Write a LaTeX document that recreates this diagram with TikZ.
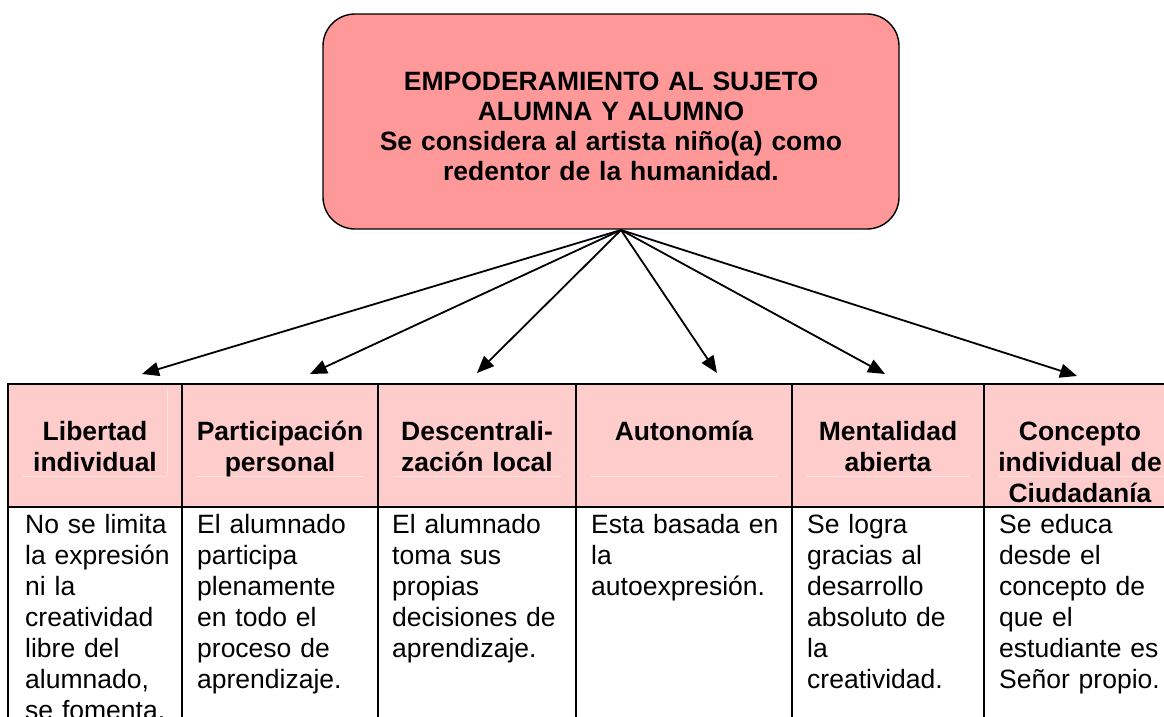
\documentclass[tikz,border=0pt]{standalone}
\usepackage{fontspec}
\setmainfont{Liberation Sans}
\usetikzlibrary{arrows.meta}
\definecolor{boxpink}{HTML}{FF9999}
\definecolor{hdrpink}{HTML}{FFCCCC}
\definecolor{faintpink}{HTML}{FFE4E4}
\tikzset{
  topbox/.style={draw=black, line width=1.4pt, fill=boxpink, rounded corners=32pt,
    minimum width=576pt, minimum height=215pt, inner sep=0pt},
  titletext/.style={font=\bfseries\fontsize{26.5}{30}\selectfont, align=center,
    text width=560pt, inner sep=0pt, anchor=base},
  hdtext/.style={font=\bfseries\fontsize{26.5}{31}\selectfont, align=center,
    inner sep=0pt, anchor=base, text width=190pt},
  bodytext/.style={font=\fontsize{26.5}{31}\selectfont, align=left,
    inner sep=0pt, anchor=base west, text width=200pt},
  gridline/.style={line width=1.5pt, draw=black},
  conn/.style={line width=1.8pt, -{Triangle[length=17pt,width=14pt]}},
  faint/.style={line width=0.8pt, draw=faintpink}
}
\begin{document}
\begin{tikzpicture}[x=1pt,y=-1pt]
\useasboundingbox (0,0) rectangle (1164,717);
\fill[white] (0,0) rectangle (1164,717);

% top box
\node[topbox] (top) at (611,121.5) {};
\node[titletext] (title) at (611,90) {EMPODERAMIENTO AL SUJETO\\ALUMNA Y ALUMNO\\Se considera al artista niño(a) como\\redentor de la humanidad.};

% table
\fill[hdrpink] (8,384) rectangle (1164,507);
\foreach \a/\b in {23/167,197/363,393/561,591/777,807/969,999/1164}{
  \draw[faint] (\a,476) -- (\b,476);
}
\draw[faint] (167,388) -- (167,476);
\draw[gridline] (1164,384) -- (8,384) -- (8,717);
\draw[gridline] (8,507) -- (1164,507);
\foreach \x in {182,378,576,792,984}{
  \draw[gridline] (\x,384) -- (\x,717);
}

% headers
\node[hdtext, text width=170pt] (h1) at (95,440) {Libertad\\individual};
\node[hdtext] (h2) at (280,440) {Participación\\personal};
\node[hdtext] (h3) at (477,440) {Descentrali-\\zación local};
\node[hdtext] (h4) at (684,440) {Autonomía};
\node[hdtext] (h5) at (888,440) {Mentalidad\\abierta};
\node[hdtext] (h6) at (1080,440) {Concepto\\individual de\\Ciudadanía};

% body
\node[bodytext] (b1) at (25,533) {No se limita\\la expresión\\ni la\\creatividad\\libre del\\alumnado,\\se fomenta.};
\node[bodytext] (b2) at (197,533) {El alumnado\\participa\\plenamente\\en todo el\\proceso de\\aprendizaje.};
\node[bodytext] (b3) at (392,533) {El alumnado\\toma sus\\propias\\decisiones de\\aprendizaje.};
\node[bodytext] (b4) at (591,533) {Esta basada en\\la\\autoexpresión.};
\node[bodytext] (b5) at (807,533) {Se logra\\gracias al\\desarrollo\\absoluto de\\la\\creatividad.};
\node[bodytext] (b6) at (999,533) {Se educa\\desde el\\concepto de\\que el\\estudiante es\\Señor propio.};

% connectors
\coordinate (hub) at (621,230);
\coordinate (t1) at (142,374);
\coordinate (t2) at (310,374);
\coordinate (t3) at (477,373);
\coordinate (t4) at (717,373);
\coordinate (t5) at (885,374);
\coordinate (t6) at (1077,376);
\foreach \t in {t1,t2,t3,t4,t5,t6}{
  \draw[conn] (hub) -- (\t);
}
\end{tikzpicture}
\end{document}
